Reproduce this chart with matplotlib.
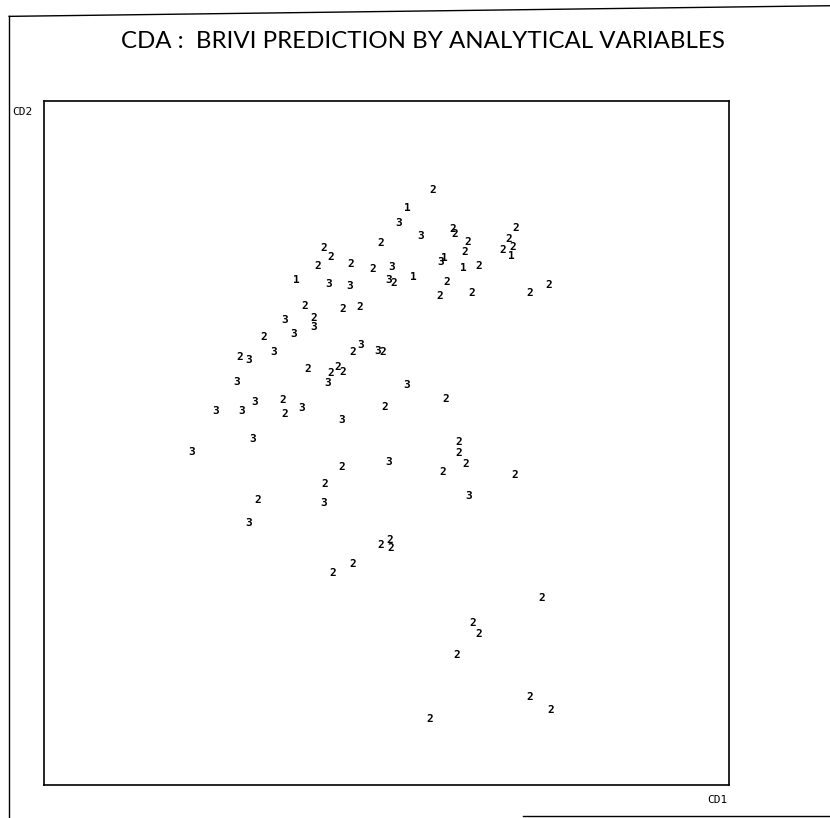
import matplotlib
matplotlib.use("Agg")
import matplotlib.pyplot as plt
from matplotlib.lines import Line2D

# canonical discriminant scores (group label drawn at each point)
group1_cd1 = [0.31, 0.85, 1.82, 0.39, 1.13, -1.32]
group1_cd2 = [3.44, 2.70, 2.73, 2.43, 2.56, 2.38]

group2_cd1 = [0.68, 0.97, 1.00, -0.08, 1.19, 1.15, 1.89, 1.79, 1.70, 1.85,
              -0.20, 0.11, 1.35, 0.88, 0.78, 1.25, 2.10, 2.37, -0.91, -0.81,
              -1.00, -0.52, -1.19, -0.63, -0.39, -1.06, -1.79, -2.14, -0.49, -0.05,
              -1.15, -0.71, -0.81, -0.63, -1.51, -1.48, -0.02, 0.87, 1.06, 1.06,
              1.16, 0.83, 1.88, -0.65, -0.90, -1.88, -0.08, 0.05, 0.07, -0.49,
              -0.78, 2.27, 1.26, 1.35, 1.03, 2.10, 2.40, 0.64]
group2_cd2 = [3.70, 3.13, 3.06, 2.92, 2.94, 2.79, 3.14, 2.98, 2.82, 2.87,
              2.54, 2.34, 2.59, 2.35, 2.15, 2.19, 2.19, 2.31, 2.85, 2.72,
              2.59, 2.62, 2.00, 1.96, 1.99, 1.83, 1.55, 1.26, 1.33, 1.33,
              1.08, 1.11, 1.02, 1.04, 0.63, 0.42, 0.53, 0.64, 0.01, -0.15,
              -0.31, -0.42, -0.47, -0.35, -0.60, -0.83, -1.49, -1.42, -1.54, -1.77,
              -1.90, -2.27, -2.63, -2.79, -3.10, -3.71, -3.90, -4.04]

group3_cd1 = [0.18, 0.50, 0.80, 0.08, 0.04, -0.84, -0.53, -1.48, -1.06, -1.35,
              -2.01, -1.64, -0.37, -0.12, -0.85, -2.18, 0.29, -1.93, -1.23, -2.49,
              -2.12, -0.65, -1.95, -2.85, 0.04, 1.20, -0.91, -2.01]
group3_cd2 = [3.22, 3.03, 2.65, 2.57, 2.38, 2.32, 2.30, 1.80, 1.70, 1.59,
              1.21, 1.33, 1.43, 1.35, 0.88, 0.89, 0.85, 0.60, 0.51, 0.47,
              0.47, 0.34, 0.06, -0.13, -0.28, -0.77, -0.88, -1.17]

groups = [("1", group1_cd1, group1_cd2),
          ("2", group2_cd1, group2_cd2),
          ("3", group3_cd1, group3_cd2)]

fig = plt.figure(figsize=(8.3, 8.18), dpi=100)
ax = fig.add_axes([0.053, 0.0403, 0.825, 0.836])

for label, xs, ys in groups:
    for x, y in zip(xs, ys):
        ax.text(x, y, label, ha="center", va="center", fontsize=8,
                family="DejaVu Sans Mono", fontweight="bold", color="black")

ax.set_xlim(-5, 5)
ax.set_ylim(-5, 5)
ax.set_xticks([])
ax.set_yticks([])
for s in ax.spines.values():
    s.set_linewidth(1.2)

fig.text(0.509, 0.949, "CDA :  BRIVI PREDICTION BY ANALYTICAL VARIABLES",
         ha="center", va="center", fontsize=17.3,
         family=["Lato", "DejaVu Sans"], fontweight="normal")
fig.text(0.0145, 0.863, "CD2", ha="left", va="center", fontsize=8,
         family="DejaVu Sans Mono")
fig.text(0.864, 0.022, "CD1", ha="center", va="center", fontsize=8,
         family="DejaVu Sans Mono")

# page border of the scanned sheet
fig.add_artist(Line2D([0.011, 0.011], [0.0, 0.98], color="black", lw=1))
fig.add_artist(Line2D([0.011, 1.0], [0.98, 0.993], color="black", lw=1))
fig.add_artist(Line2D([0.63, 1.0], [0.002, 0.002], color="black", lw=1))

fig.savefig("out.png", dpi=100)
